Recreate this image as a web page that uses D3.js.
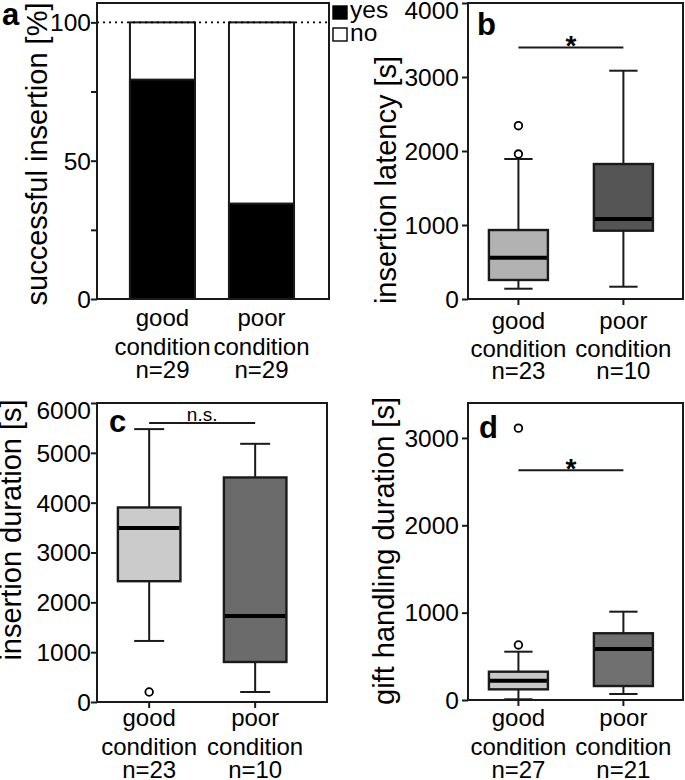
<!DOCTYPE html>
<html>
<head>
<meta charset="utf-8">
<script src="https://cdn.jsdelivr.net/npm/d3@7"></script>
<style>
    body { margin: 0; background: #ffffff; }
    svg text { font-family: "Liberation Sans", Arial, Helvetica, sans-serif; fill: #000; }
</style>
</head>
<body>
<div id="figure"></div>
<script>

console.log("--> figure: Started drawing");


//- Data
const conditionNames = ["good", "poor"];

const sampleSizeInsertion = [29, 29];
const sampleSizeLatency = [23, 10];
const sampleSizeDuration = [23, 10];
const sampleSizeHandling = [27, 21];

const insertionYesPct = [79.3, 34.5];      // panel a, % successful insertion per condition
const insertionTicks = [0, 25, 50, 75, 100];
const insertionTickLabels = [0, 50, 100];

// box plots: [low whisker, q1, median, q3, high whisker]
const latencyGood = [139, 257, 558, 932, 1892];
const latencyPoor = [166, 923, 1081, 1824, 3085];
const latencyOutliers = [[1959, 2342], []];
const latencyTicks = [0, 1000, 2000, 3000, 4000];

const durationGood = [1225, 2424, 3494, 3904, 5476];
const durationPoor = [201, 803, 1727, 4506, 5181];
const durationOutliers = [[201], []];
const durationTicks = [0, 1000, 2000, 3000, 4000, 5000, 6000];

const handlingGood = [8, 122, 221, 324, 553];
const handlingPoor = [69, 160, 584, 764, 1011];
const handlingOutliers = [[630, 3112], []];
const handlingTicks = [0, 1000, 2000, 3000];

const legendLabels = ["yes", "no"];


//- Layout
const SVGWIDTH = 685;
const SVGHEIGHT = 780;
const TICKFONT = 24.5;
const LABELFONT = 24;
const TITLEFONT = 29;
const LINECOLOR = "#1a1a1a";
const LINEWIDTH = 2;

const PANEL_A = { left: 97, right: 329, top: 3, bottom: 299, padIn: 0.343, padOut: 0.343, align: 0.485,
    tickPad: 0, xTicks: false, rows: [27, 56, 79], titleX: 47, titleY: 154, letter: [2, 25] };
const PANEL_B = { left: 468, right: 683, top: 3, bottom: 299, padIn: 0.438, padOut: 0.243, align: 0.41,
    tickPad: 3, xTicks: true, rows: [30, 58, 80], titleX: 396, titleY: 180, letter: [477, 35] };
const PANEL_C = { left: 97, right: 327, top: 403, bottom: 702, padIn: 0.41, padOut: 0.29, align: 0.34,
    tickPad: 0, xTicks: true, rows: [24, 53, 76], titleX: 21, titleY: 530, letter: [109, 432] };
const PANEL_D = { left: 468, right: 683, top: 403, bottom: 700, padIn: 0.438, padOut: 0.243, align: 0.41,
    tickPad: 3, xTicks: true, rows: [26, 55, 78], titleX: 394, titleY: 551, letter: [479, 438] };


let svg = d3.select("#figure").append("svg")
    .attr("width", SVGWIDTH)
    .attr("height", SVGHEIGHT);


function createScales(p, yDomain){
    /* Returns the band (x) and linear (y) scales of one panel */
    let x = d3.scaleBand()
        .domain(conditionNames)
        .range([p.left, p.right])
        .paddingInner(p.padIn)
        .paddingOuter(p.padOut)
        .align(p.align);

    let y = d3.scaleLinear()
        .domain(yDomain)
        .range([p.bottom, p.top]);

    return { x: x, y: y };
}


function drawAxes(p, s, ticks, tickLabels, sizes, title, letter){
    /* Frame, y axis, category labels, title and panel letter */

    //- Y axis
    let yAxis = d3.axisLeft(s.y)
        .tickValues(ticks)
        .tickSize(6)
        .tickPadding(p.tickPad)
        .tickFormat(d => tickLabels.includes(d) ? d : "");

    let ag = svg.append("g")
        .attr("transform", `translate(${p.left},0)`)
        .attr("font-size", null)
        .attr("font-family", null)
        .call(yAxis);

    ag.select(".domain").remove();
    ag.selectAll(".tick line").attr("stroke", LINECOLOR).attr("stroke-width", LINEWIDTH);
    ag.selectAll(".tick text")
        .attr("font-size", TICKFONT)
        .attr("fill", "#000")
        .attr("dy", d => (0.34 + Math.max(0, 10 - (s.y(d) - p.top + 3)) / TICKFONT) + "em");

    //- X ticks
    if (p.xTicks){
        svg.append("g").selectAll("line")
            .data(conditionNames)
            .join("line")
            .attr("x1", d => s.x(d) + s.x.bandwidth() / 2)
            .attr("x2", d => s.x(d) + s.x.bandwidth() / 2)
            .attr("y1", p.bottom)
            .attr("y2", p.bottom + 6)
            .attr("stroke", LINECOLOR)
            .attr("stroke-width", LINEWIDTH);
    }

    //- Category labels, three lines each
    let labels = svg.append("g").selectAll("text")
        .data(conditionNames)
        .join("text")
        .attr("text-anchor", "middle")
        .attr("font-size", LABELFONT);

    labels.each(function(d, i){
        let cx = s.x(d) + s.x.bandwidth() / 2;
        let lines = [d, "condition", `n=${sizes[i]}`];
        lines.forEach((txt, k) => {
            d3.select(this).append("tspan")
                .attr("x", cx)
                .attr("y", p.bottom + p.rows[k])
                .text(txt);
        });
    });

    //- Axis title
    svg.append("text")
        .attr("transform", `translate(${p.titleX},${p.titleY}) rotate(-90)`)
        .attr("text-anchor", "middle")
        .attr("font-size", TITLEFONT)
        .text(title);

    //- Panel letter
    svg.append("text")
        .attr("x", p.letter[0])
        .attr("y", p.letter[1])
        .attr("font-size", 31)
        .attr("font-weight", "bold")
        .text(letter);
}


function drawFrame(p){
    svg.append("rect")
        .attr("x", p.left)
        .attr("y", p.top)
        .attr("width", p.right - p.left)
        .attr("height", p.bottom - p.top)
        .attr("fill", "none")
        .attr("stroke", LINECOLOR)
        .attr("stroke-width", LINEWIDTH);
}


function drawBoxes(p, s, stats, outliers, colors){
    /* stats: list of five number summaries, one per condition */
    let g = svg.append("g");
    let bw = s.x.bandwidth();
    let capW = bw * 0.48;

    stats.forEach((st, i) => {
        let cat = conditionNames[i];
        let cx = s.x(cat) + bw / 2;

        //- Whiskers
        [[st[0], st[1]], [st[3], st[4]]].forEach(w => {
            g.append("line")
                .attr("x1", cx).attr("x2", cx)
                .attr("y1", s.y(w[0])).attr("y2", s.y(w[1]))
                .attr("stroke", LINECOLOR).attr("stroke-width", LINEWIDTH);
        });
        [st[0], st[4]].forEach(v => {
            g.append("line")
                .attr("x1", cx - capW / 2).attr("x2", cx + capW / 2)
                .attr("y1", s.y(v)).attr("y2", s.y(v))
                .attr("stroke", LINECOLOR).attr("stroke-width", LINEWIDTH);
        });

        //- Box
        g.append("rect")
            .attr("x", s.x(cat))
            .attr("y", s.y(st[3]))
            .attr("width", bw)
            .attr("height", s.y(st[1]) - s.y(st[3]))
            .attr("fill", colors[i])
            .attr("stroke", LINECOLOR)
            .attr("stroke-width", 2.4);

        //- Median
        g.append("line")
            .attr("x1", s.x(cat) + 1).attr("x2", s.x(cat) + bw - 1)
            .attr("y1", s.y(st[2])).attr("y2", s.y(st[2]))
            .attr("stroke", "#000").attr("stroke-width", 4);

        //- Outliers
        g.selectAll(null)
            .data(outliers[i])
            .join("circle")
            .attr("cx", cx)
            .attr("cy", d => s.y(d))
            .attr("r", 3.8)
            .attr("fill", "#fff")
            .attr("stroke", "#000")
            .attr("stroke-width", 1.8);
    });
}


function drawSignificance(s, value, label, isStar){
    let x1 = s.x(conditionNames[0]) + s.x.bandwidth() / 2;
    let x2 = s.x(conditionNames[1]) + s.x.bandwidth() / 2;

    svg.append("line")
        .attr("x1", x1).attr("x2", x2)
        .attr("y1", s.y(value)).attr("y2", s.y(value))
        .attr("stroke", LINECOLOR)
        .attr("stroke-width", LINEWIDTH);

    svg.append("text")
        .attr("x", (x1 + x2) / 2)
        .attr("y", s.y(value) + (isStar ? 8 : -2))
        .attr("text-anchor", "middle")
        .attr("font-size", isStar ? 28 : 19)
        .attr("font-weight", isStar ? "bold" : "normal")
        .text(label);
}


//-- Panel a: stacked percentage bars
let sA = createScales(PANEL_A, [0, 107]);

svg.append("g").selectAll("rect")
    .data(conditionNames)
    .join("rect")
    .attr("x", d => sA.x(d))
    .attr("y", sA.y(100))
    .attr("width", sA.x.bandwidth())
    .attr("height", sA.y(0) - sA.y(100))
    .attr("fill", "#fff")
    .attr("stroke", LINECOLOR)
    .attr("stroke-width", LINEWIDTH);

svg.append("g").selectAll("rect")
    .data(insertionYesPct)
    .join("rect")
    .attr("x", (d, i) => sA.x(conditionNames[i]))
    .attr("y", d => sA.y(d))
    .attr("width", sA.x.bandwidth())
    .attr("height", d => sA.y(0) - sA.y(d))
    .attr("fill", "#000")
    .attr("stroke", LINECOLOR)
    .attr("stroke-width", LINEWIDTH);

svg.append("line")
    .attr("x1", PANEL_A.left).attr("x2", PANEL_A.right)
    .attr("y1", sA.y(100)).attr("y2", sA.y(100))
    .attr("stroke", "#000")
    .attr("stroke-width", 1.6)
    .attr("stroke-dasharray", "2,4");

drawFrame(PANEL_A);
drawAxes(PANEL_A, sA, insertionTicks, insertionTickLabels, sampleSizeInsertion, "successful insertion [%]", "a");

//- Legend
let legend = svg.append("g").attr("transform", `translate(${PANEL_A.right + 4}, 6)`);
legendLabels.forEach((lab, i) => {
    legend.append("rect")
        .attr("x", 0).attr("y", i * 22)
        .attr("width", 14).attr("height", 13)
        .attr("fill", i == 0 ? "#000" : "#fff")
        .attr("stroke", "#000")
        .attr("stroke-width", 1.4);
    legend.append("text")
        .attr("x", 17).attr("y", i * 23 + 12)
        .attr("font-size", TICKFONT)
        .text(lab);
});


//-- Panel b: insertion latency
let sB = createScales(PANEL_B, [0, 4000]);
drawBoxes(PANEL_B, sB, [latencyGood, latencyPoor], latencyOutliers, ["#b2b2b2", "#555555"]);
drawSignificance(sB, 3400, "*", true);
drawFrame(PANEL_B);
drawAxes(PANEL_B, sB, latencyTicks, latencyTicks, sampleSizeLatency, "insertion latency [s]", "b");


//-- Panel c: insertion duration
let sC = createScales(PANEL_C, [0, 6000]);
drawBoxes(PANEL_C, sC, [durationGood, durationPoor], durationOutliers, ["#cbcbcb", "#6b6b6b"]);
drawSignificance(sC, 5600, "n.s.", false);
drawFrame(PANEL_C);
drawAxes(PANEL_C, sC, durationTicks, durationTicks, sampleSizeDuration, "insertion duration [s]", "c");


//-- Panel d: gift handling duration
let sD = createScales(PANEL_D, [0, 3400]);
drawBoxes(PANEL_D, sD, [handlingGood, handlingPoor], handlingOutliers, ["#c8c8c8", "#707070"]);
drawSignificance(sD, 2630, "*", true);
drawFrame(PANEL_D);
drawAxes(PANEL_D, sD, handlingTicks, handlingTicks, sampleSizeHandling, "gift handling duration [s]", "d");

console.log("--> figure: Done");

</script>
</body>
</html>
